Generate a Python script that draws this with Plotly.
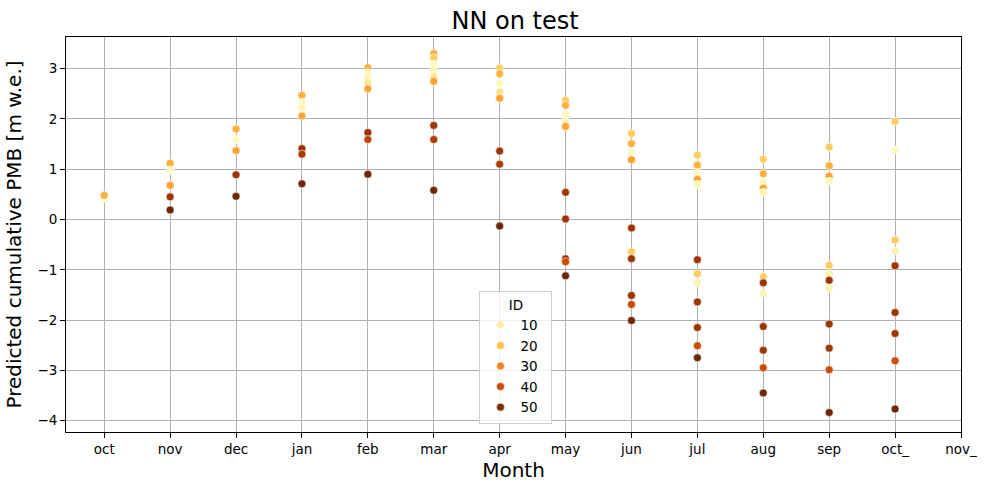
import plotly.graph_objects as go
from plotly.colors import sample_colorscale

months = ["oct", "nov", "dec", "jan", "feb", "mar", "apr", "may", "jun",
          "jul", "aug", "sep", "oct_", "nov_"]

# long-form data: month, glacier ID, predicted cumulative PMB
point_month = (
    ["oct"] * 2
    + ["nov"] * 5
    + ["dec"] * 5
    + ["jan"] * 7
    + ["feb"] * 8
    + ["mar"] * 9
    + ["apr"] * 8
    + ["may"] * 10
    + ["jun"] * 10
    + ["jul"] * 12
    + ["aug"] * 12
    + ["sep"] * 12
    + ["oct_"] * 9
)
point_id = (
    [6, 23]
    + [23, 6, 25, 46, 52]
    + [23, 6, 25, 46, 52]
    + [23, 6, 8, 25, 46, 44, 52]
    + [23, 6, 8, 12, 25, 46, 42, 52]
    + [23, 18, 6, 8, 12, 25, 46, 44, 52]
    + [18, 23, 6, 14, 25, 46, 44, 52]
    + [18, 23, 6, 8, 25, 46, 46, 46, 40, 52]
    + [18, 23, 6, 25, 46, 18, 46, 46, 40, 52]
    + [18, 23, 6, 25, 8, 46, 18, 8, 46, 46, 40, 52]
    + [18, 23, 6, 25, 8, 18, 46, 8, 46, 46, 40, 52]
    + [18, 23, 25, 6, 18, 8, 46, 8, 46, 46, 40, 52]
    + [18, 6, 18, 8, 46, 46, 46, 40, 52]
)
point_value = (
    [0.42, 0.48]
    + [1.12, 0.98, 0.68, 0.45, 0.19]
    + [1.80, 1.59, 1.37, 0.89, 0.46]
    + [2.47, 2.33, 2.22, 2.06, 1.41, 1.30, 0.71]
    + [3.02, 2.92, 2.82, 2.72, 2.60, 1.73, 1.59, 0.90]
    + [3.30, 3.21, 3.09, 2.96, 2.84, 2.75, 1.87, 1.59, 0.58]
    + [3.01, 2.90, 2.71, 2.53, 2.41, 1.36, 1.10, -0.13]
    + [2.37, 2.27, 2.09, 1.96, 1.85, 0.54, 0.01, -0.78, -0.84, -1.12]
    + [1.71, 1.51, 1.34, 1.19, -0.17, -0.64, -0.78, -1.51, -1.69, -2.01]
    + [1.28, 1.08, 0.93, 0.80, 0.70, -0.80, -1.08, -1.26, -1.64, -2.15, -2.51, -2.75]
    + [1.20, 0.91, 0.74, 0.62, 0.54, -1.14, -1.26, -1.47, -2.13, -2.60, -2.95, -3.45]
    + [1.44, 1.07, 0.86, 0.76, -0.91, -1.08, -1.21, -1.37, -2.08, -2.56, -2.99, -3.84]
    + [1.95, 1.38, -0.41, -0.62, -0.92, -1.85, -2.27, -2.81, -3.77]
)
legend_ids = [10, 20, 30, 40, 50]

ID_MIN, ID_MAX = 0, 53


def id_color(v):
    return sample_colorscale("YlOrBr", [(v - ID_MIN) / (ID_MAX - ID_MIN)])[0]


fig = go.Figure()
fig.add_trace(go.Scatter(
    x=point_month, y=point_value, mode="markers",
    marker=dict(size=8, color=[id_color(v) for v in point_id],
                line=dict(color="white", width=0.6)),
    showlegend=False, hoverinfo="x+y",
))
for lid in legend_ids:
    fig.add_trace(go.Scatter(
        x=[None], y=[None], mode="markers", name=str(lid) + "  ",
        marker=dict(size=8, color=id_color(lid), line=dict(color="white", width=0.6)),
    ))

axis_common = dict(
    showline=True, linecolor="black", linewidth=1, mirror=True,
    showgrid=True, gridcolor="#b0b0b0", gridwidth=1,
    ticks="outside", ticklen=5, tickcolor="black", tickwidth=1,
    tickfont=dict(size=13.5, color="black"), zeroline=False,
)
fig.update_layout(
    width=989, height=490,
    margin=dict(l=66, r=25, t=37, b=58),
    paper_bgcolor="white", plot_bgcolor="white",
    font=dict(family="DejaVu Sans", color="black"),
    title=dict(text="NN on test", x=0.5 * (66 + 964) / 989, xanchor="center",
               y=1 - 21 / 490, yanchor="middle", font=dict(size=24)),
    xaxis=dict(**axis_common, type="category", categoryorder="array",
               categoryarray=months, range=[-0.58, 13],
               title=dict(text="Month", font=dict(size=20), standoff=6)),
    yaxis=dict(**axis_common, range=[-4.227, 3.63], dtick=1,
               title=dict(text="Predicted cumulative PMB [m w.e.]", font=dict(size=20), standoff=10)),
    legend=dict(
        title=dict(text="ID", side="top center", font=dict(size=13.5)),
        x=0.462, y=0.02, xanchor="left", yanchor="bottom",
        bgcolor="rgba(255,255,255,0.8)", bordercolor="#d0d0d0", borderwidth=1,
        font=dict(size=13.5),
    ),
)
fig.write_html("out.html")
